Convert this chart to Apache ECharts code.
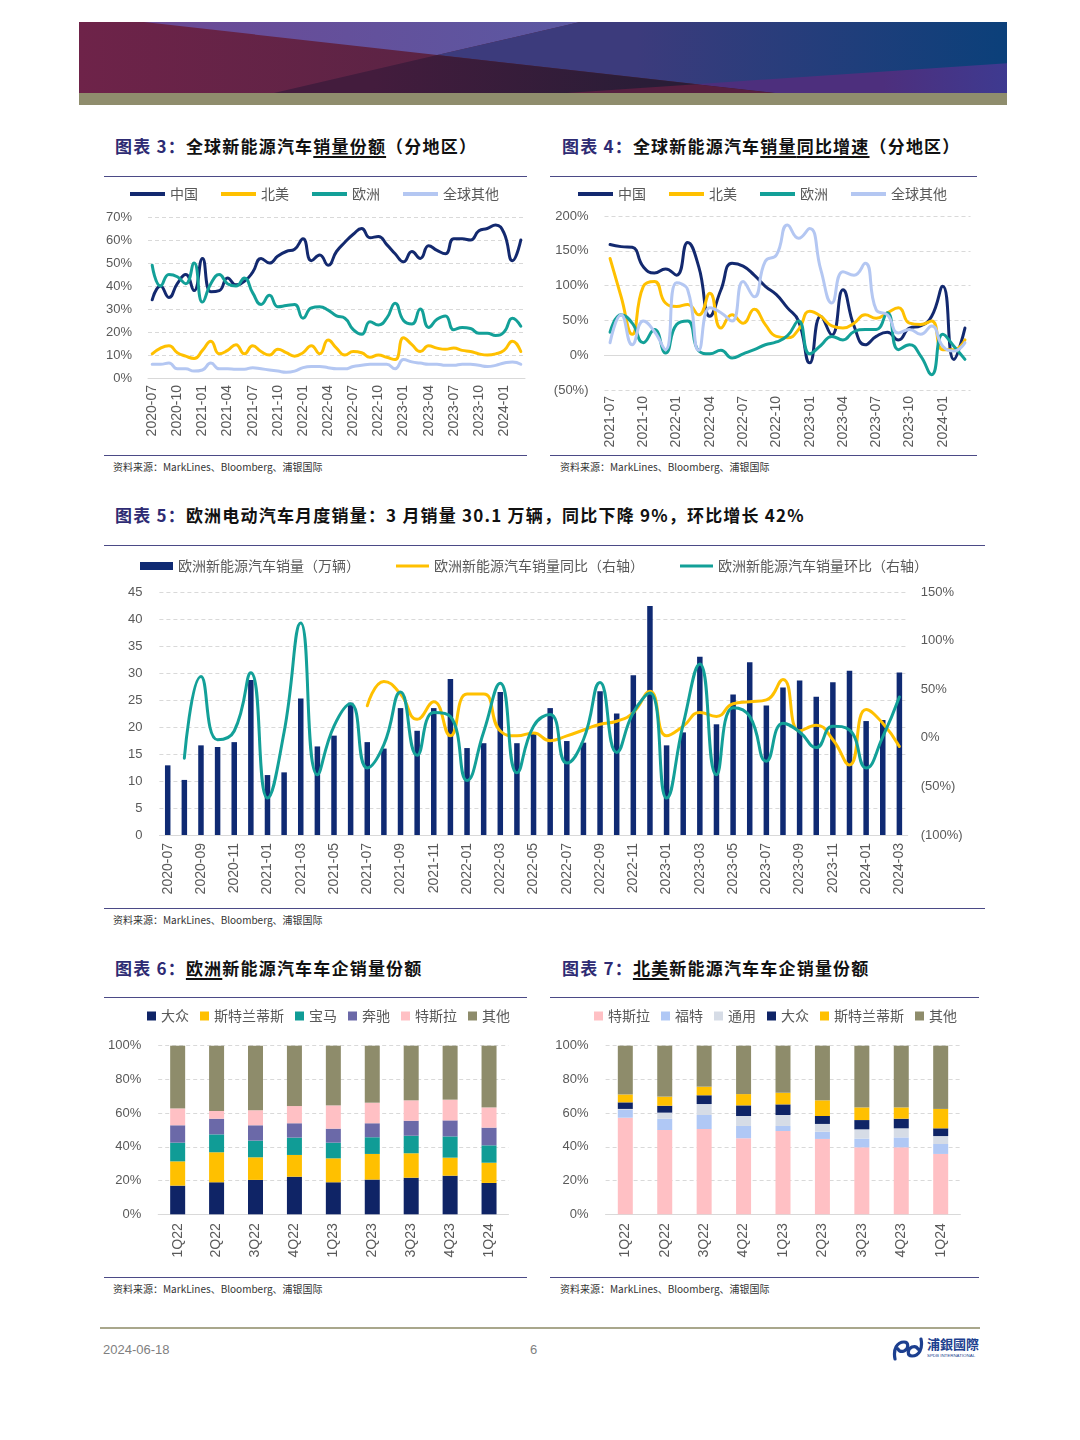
<!DOCTYPE html>
<html><head><meta charset="utf-8">
<script src="https://cdn.jsdelivr.net/npm/echarts@6/dist/echarts.min.js"></script>
<style>
html,body{margin:0;padding:0;background:#fff;}
body{width:1080px;height:1440px;position:relative;overflow:hidden;font-family:"Noto Sans CJK SC",sans-serif;}
.abs{position:absolute;}
.title{position:absolute;font-size:17px;font-weight:bold;color:#111;letter-spacing:1.2px;white-space:nowrap;line-height:20px;}
.title .lab{color:#2E2B73;}
.title u{text-decoration:underline;text-underline-offset:3px;text-decoration-thickness:1.5px;}
.rule{position:absolute;height:0;border-top:1.5px solid #4B4A86;}
.src{position:absolute;font-size:10px;color:#333;white-space:nowrap;line-height:12px;}
.chart{position:absolute;}
</style></head>
<body>
<svg class="abs" style="left:79px;top:22px" width="928" height="71" viewBox="0 0 1000 100" preserveAspectRatio="none">
<defs>
<linearGradient id="gL" x1="0" x2="1" y1="0" y2="0"><stop offset="0" stop-color="#6E2349"/><stop offset="0.5" stop-color="#552443"/></linearGradient>
<linearGradient id="gT" x1="0" x2="1" y1="0" y2="0"><stop offset="0" stop-color="#6C4995"/><stop offset="1" stop-color="#5B58A2"/></linearGradient>
<linearGradient id="gR" x1="0" x2="1" y1="0" y2="0"><stop offset="0.35" stop-color="#3C3B7C"/><stop offset="1" stop-color="#0B407A"/></linearGradient>
<linearGradient id="gB" x1="0" x2="1" y1="0" y2="0"><stop offset="0.2" stop-color="#431C3D"/><stop offset="0.75" stop-color="#2A1D37"/></linearGradient>
<linearGradient id="gP" x1="0" x2="1" y1="0" y2="0"><stop offset="0.6" stop-color="#4D2F7D"/><stop offset="1" stop-color="#3E3A90"/></linearGradient>
</defs>
<rect x="0" y="0" width="1000" height="100" fill="url(#gL)"/>
<polygon points="70,0 540,0 386,46.5" fill="url(#gT)"/>
<polygon points="540,0 1000,0 1000,100 750,100 386,46.5" fill="url(#gR)"/>
<polygon points="386,46.5 750,100 210,100" fill="url(#gB)"/>
<polygon points="665,87.6 1000,58 1000,100 750,100" fill="url(#gP)"/>
<polygon points="525,100 665,87.6 750,100" fill="#571F40"/>
</svg>
<div class="abs" style="left:79px;top:93px;width:928px;height:12px;background:#8F8D6D"></div>

<div class="title" style="left:115px;top:136px"><span class="lab">图表 3：</span>全球新能源汽车<u>销量份额</u>（分地区）</div>
<div class="title" style="left:562px;top:136px"><span class="lab">图表 4：</span>全球新能源汽车<u>销量</u><u>同比增速</u>（分地区）</div>
<div class="rule" style="left:104px;top:176px;width:423px"></div>
<div class="rule" style="left:550px;top:176px;width:427px"></div>
<div class="rule" style="left:104px;top:455px;width:423px"></div>
<div class="rule" style="left:550px;top:455px;width:427px"></div>
<div class="src" style="left:113px;top:461px">资料来源：MarkLines、Bloomberg、浦银国际</div>
<div class="src" style="left:560px;top:461px">资料来源：MarkLines、Bloomberg、浦银国际</div>

<div class="title" style="left:115px;top:505px;letter-spacing:1.2px"><span class="lab">图表 5：</span>欧洲电动汽车月度销量：3 月销量 30.1 万辆，同比下降 9%，环比增长 42%</div>
<div class="rule" style="left:104px;top:545px;width:881px"></div>
<div class="rule" style="left:104px;top:908px;width:881px"></div>
<div class="src" style="left:113px;top:914px">资料来源：MarkLines、Bloomberg、浦银国际</div>

<div class="title" style="left:115px;top:958px"><span class="lab">图表 6：</span><u>欧洲</u>新能源汽车车企销量份额</div>
<div class="title" style="left:562px;top:958px"><span class="lab">图表 7：</span><u>北美</u>新能源汽车车企销量份额</div>
<div class="rule" style="left:104px;top:997px;width:423px"></div>
<div class="rule" style="left:550px;top:997px;width:429px"></div>
<div class="rule" style="left:104px;top:1277px;width:423px"></div>
<div class="rule" style="left:550px;top:1277px;width:429px"></div>
<div class="src" style="left:113px;top:1283px">资料来源：MarkLines、Bloomberg、浦银国际</div>
<div class="src" style="left:560px;top:1283px">资料来源：MarkLines、Bloomberg、浦银国际</div>

<div class="abs" style="left:100px;top:1327px;width:880px;height:2px;background:#A9A78C"></div>
<div class="abs" style="left:103px;top:1342px;font-family:'Liberation Sans',Arial,sans-serif;font-size:13px;color:#7F7F7F">2024-06-18</div>
<div class="abs" style="left:530px;top:1342px;font-family:'Liberation Sans',Arial,sans-serif;font-size:13px;color:#7F7F7F">6</div>
<svg class="abs" style="left:892px;top:1337px" width="32" height="24" viewBox="0 0 32 24">
<path d="M3,22 C1,12 5,5 12,5 C17,5 17,12 12,14 C9,15 7,14 6,12" fill="none" stroke="#1C3F8F" stroke-width="3.2" stroke-linecap="round"/>
<path d="M29,2 C31,12 27,19 20,19 C15,19 15,12 20,10 C23,9 25,10 26,12" fill="none" stroke="#1C3F8F" stroke-width="3.2" stroke-linecap="round"/>
</svg>
<div class="abs" style="left:927px;top:1336px;font-size:13px;font-weight:bold;color:#1C3F8F;letter-spacing:0px;line-height:16px">浦銀國際</div>
<div class="abs" style="left:927px;top:1353px;font-size:8px;color:#1C3F8F;transform:scale(0.55);transform-origin:0 0;white-space:nowrap;font-family:'Liberation Sans',Arial">SPDB INTERNATIONAL</div>

<div id="c3" class="chart" style="left:100px;top:180px;width:440px;height:275px"></div>
<div id="c4" class="chart" style="left:545px;top:180px;width:440px;height:275px"></div>
<div id="c5" class="chart" style="left:100px;top:550px;width:890px;height:358px"></div>
<div id="c6" class="chart" style="left:100px;top:1000px;width:440px;height:275px"></div>
<div id="c7" class="chart" style="left:545px;top:1000px;width:440px;height:275px"></div>

<script>
// ---------- categories ----------
const monthsAll = ['2020-07','2020-08','2020-09','2020-10','2020-11','2020-12',
 '2021-01','2021-02','2021-03','2021-04','2021-05','2021-06','2021-07','2021-08','2021-09','2021-10','2021-11','2021-12',
 '2022-01','2022-02','2022-03','2022-04','2022-05','2022-06','2022-07','2022-08','2022-09','2022-10','2022-11','2022-12',
 '2023-01','2023-02','2023-03','2023-04','2023-05','2023-06','2023-07','2023-08','2023-09','2023-10','2023-11','2023-12',
 '2024-01','2024-02','2024-03'];
const months4 = ['2021-07','2021-08','2021-09','2021-10','2021-11','2021-12',
 '2022-01','2022-02','2022-03','2022-04','2022-05','2022-06','2022-07','2022-08','2022-09','2022-10','2022-11','2022-12',
 '2023-01','2023-02','2023-03','2023-04','2023-05','2023-06','2023-07','2023-08','2023-09','2023-10','2023-11','2023-12',
 '2024-01','2024-02','2024-03'];
const quarters = ['1Q22','2Q22','3Q22','4Q22','1Q23','2Q23','3Q23','4Q23','1Q24'];

// ---------- chart 3: share by region (%) ----------
const shareChina = [34,40,35,41,45,38,52,37.5,38,43.5,40.5,42,46,52,50,53,55,56,60.5,51,53.5,49,55,59,62.5,65,61,61.5,58,54,50.5,55,52,57.5,55.5,54,60.5,60.5,60,64,65,66.5,63,51,60];
const shareNA = [10.5,13,14,11,9.5,8.5,12,16,10.5,12,14.5,10.5,14,11.5,10,12.5,11,9.5,11,14,10.5,16.5,13,10,11.5,11,9,10,9,8,17.5,14.5,11.5,14,13,12.5,13,12,11.5,10.5,10,10.5,12,16,11.5];
const shareEU = [49,40,45,44,41,50,33,41,45,41,40,43.5,37,32,36,31,31.5,32,26,30.5,31,29.5,27,26,21,19,24.5,23,26,32.5,25,23.5,30,22,25.5,27,21,22,21.5,19.5,19.5,18.5,20,26,22.5];
const shareROW = [6,6,6.5,4,4,3,3.5,6.5,4,4,3.8,3.8,4.5,4,3.5,3,2.5,3,4.5,5,5,4.5,4,4,5,5.5,6,6,6,4,8,7,6.5,6,6,5.5,5.5,6,6,5.5,5,5.5,6.5,7,6];

// ---------- chart 4: YoY growth by region (%) ----------
const yoyChina = [159,156,155,127,118,124,115,162,127,56,94,132,128,115,99,87,68,49,-11,56,29,94,42,15,27,33,22,39,42,56,99,-6,39];
const yoyNA = [139,84,30,99,106,75,70,73,58,89,39,58,46,66,44,27,25,37,63,56,42,39,46,58,53,61,68,46,44,49,8,8,22];
const yoyEU = [33,58,46,18,37,3,44,49,6,2,7,-4,2,8,15,19,28,49,2,14,27,22,34,37,37,61,8,15,-1,-28,30,13,-6];
const yoyROW = [18,58,15,49,34,8,104,94,7,68,61,49,106,84,135,144,187,168,182,123,75,120,115,132,65,58,32,37,30,42,13,6,18];

// ---------- chart 5: Europe monthly NEV sales ----------
const euSales = [12.9,10.2,16.6,16.3,17.2,28.7,
 11.1,11.6,25.3,16.4,18.4,24.5,17.2,16.0,23.5,19.3,23.5,28.9,
 16.1,17.0,26.5,17.0,18.9,23.5,17.4,17.1,26.6,22.5,29.6,42.4,
 16.6,19.0,33.0,20.5,26.0,32.0,24.0,27.3,28.6,25.6,28.3,30.4,
 21.1,21.3,30.1];
const euYoY = [null,null,null,null,null,null,
 null,null,null,null,null,null,33,58,45,19,37,2,
 45,45,7,2,5,-3,2,8,14,17,26,48,
 2,12,26,22,35,37,39,60,7,13,-2,-28,
 29,15,-9];
const euMoM = [null,-21,63,-2,7,67,
 -62,6,118,-38,12,35,-31,-7,47,-18,26,22,
 -44,6,56,-36,12,24,-26,-2,57,-15,26,46,
 -62,14,76,-38,31,22,-24,15,6,-10,12,8,
 -31,1,42];

// ---------- chart 6: Europe OEM share (%) ----------
const eu_VW = [17,19,20.4,22.3,19,20.6,21.7,22.9,18.6];
const eu_Stellantis = [14.4,17.8,13.4,12.9,14.2,15.2,14.5,10.7,12];
const eu_BMW = [11.1,10.6,9.9,10.3,9.3,9.9,10.4,12.6,10.3];
const eu_Benz = [10.3,9.3,9.1,8.5,8.3,8.3,8.9,9.5,10.5];
const eu_Tesla = [10,4.6,8.9,10.2,13.8,12.2,12.1,12.3,12];
const eu_Other = [37.2,38.7,38.3,35.8,35.4,33.8,32.4,32,36.6];

// ---------- chart 7: North America OEM share (%) ----------
const na_Tesla = [57.3,50,50.6,45.1,49.4,44.7,39.7,39.7,35.8];
const na_Ford = [4.6,6.7,8.3,7.3,3,4.3,5.2,5.9,5.9];
const na_GM = [0.6,3.6,6.5,5.9,6.5,4.6,5.5,5.4,4.7];
const na_VW = [3.9,4.1,5.2,6.3,6.3,4.7,5.5,5.7,4.6];
const na_Stellantis = [4.7,5.4,5.1,6.7,6.9,9.3,7.5,6.7,11.5];
const na_Other = [28.9,30.2,24.3,28.7,27.9,32.4,36.6,36.6,37.5];

// ---------- styles ----------
const CJK = '"Noto Sans CJK SC", sans-serif';
const LAT = '"Liberation Sans", Arial, sans-serif';
const C_NAVY = '#13296F', C_YEL = '#FFC000', C_TEAL = '#13A098', C_LBLUE = '#B4C7F2';
const AXC = '#595959', GRIDC = '#D9D9D9';
const axLabel = {color: AXC, fontFamily: LAT, fontSize: 13};
const xLabel = {color: AXC, fontFamily: LAT, fontSize: 14};
const pctFmt = v => v < 0 ? '(' + (-v) + '%)' : v + '%';
const splitDash = {show: true, lineStyle: {color: GRIDC, type: [4, 3], width: 1}};
const legendText = {fontFamily: CJK, fontSize: 14, color: AXC};

function lineSeries(name, data, color, extra) {
  return Object.assign({name, type: 'line', data, smooth: 0.5, symbol: 'none',
    lineStyle: {width: 3, color, cap: 'round'}, itemStyle: {color}}, extra || {});
}

// chart 3
echarts.init(document.getElementById('c3')).setOption({
  animation: false,
  legend: {top: 7, left: 30, padding: 0, icon: 'rect', itemWidth: 35, itemHeight: 4, itemGap: 23, textStyle: legendText,
    data: ['中国', '北美', '欧洲', '全球其他']},
  grid: {left: 48, top: 37, width: 377, height: 161},
  xAxis: {type: 'category', data: monthsAll, boundaryGap: true,
    axisLine: {lineStyle: {color: GRIDC}}, axisTick: {interval: 2, lineStyle: {color: GRIDC}},
    axisLabel: Object.assign({interval: 2, rotate: 90, margin: 7}, xLabel)},
  yAxis: {type: 'value', min: 0, max: 70, interval: 10, axisLine: {show: false}, axisTick: {show: false},
    axisLabel: Object.assign({formatter: '{value}%', margin: 16}, axLabel), splitLine: splitDash},
  series: [lineSeries('中国', shareChina, C_NAVY), lineSeries('北美', shareNA, C_YEL),
           lineSeries('欧洲', shareEU, C_TEAL), lineSeries('全球其他', shareROW, C_LBLUE)]
});

// chart 4
echarts.init(document.getElementById('c4')).setOption({
  animation: false,
  legend: {top: 7, left: 33, padding: 0, icon: 'rect', itemWidth: 35, itemHeight: 4, itemGap: 23, textStyle: legendText,
    data: ['中国', '北美', '欧洲', '全球其他']},
  grid: {left: 59.5, top: 36, width: 366, height: 174},
  xAxis: [
    {type: 'category', data: months4, boundaryGap: true, axisLine: {onZero: true, lineStyle: {color: GRIDC}},
     axisTick: {interval: 2, length: 5, lineStyle: {color: GRIDC}}, axisLabel: {show: false}},
    {type: 'category', data: months4, boundaryGap: true, position: 'bottom', axisLine: {show: false}, axisTick: {show: false},
     axisLabel: Object.assign({interval: 2, rotate: 90, margin: 6}, xLabel)}
  ],
  yAxis: {type: 'value', min: -50, max: 200, interval: 50, axisLine: {show: false}, axisTick: {show: false},
    axisLabel: Object.assign({formatter: pctFmt, margin: 16}, axLabel), splitLine: splitDash},
  series: [lineSeries('中国', yoyChina, C_NAVY), lineSeries('北美', yoyNA, C_YEL),
           lineSeries('欧洲', yoyEU, C_TEAL), lineSeries('全球其他', yoyROW, C_LBLUE)]
});

// chart 5
const lineIcon = 'path://M0,0M35,8M0,2.5h35v3h-35z';
echarts.init(document.getElementById('c5')).setOption({
  animation: false,
  legend: {top: 9, left: 40, padding: 0, itemWidth: 33, itemHeight: 8, itemGap: 36, textStyle: legendText,
    data: [{name: '欧洲新能源汽车销量（万辆）', icon: 'rect'},
           {name: '欧洲新能源汽车销量同比（右轴）', icon: lineIcon},
           {name: '欧洲新能源汽车销量环比（右轴）', icon: lineIcon}]},
  grid: {left: 59.4, top: 42, width: 748.3, height: 243},
  xAxis: {type: 'category', data: monthsAll, boundaryGap: true,
    axisLine: {lineStyle: {color: GRIDC}}, axisTick: {interval: 1, lineStyle: {color: GRIDC}},
    axisLabel: Object.assign({interval: 1, rotate: 90, margin: 8}, xLabel)},
  yAxis: [
    {type: 'value', min: 0, max: 45, interval: 5, axisLine: {show: false}, axisTick: {show: false},
     axisLabel: Object.assign({margin: 17}, axLabel), splitLine: splitDash},
    {type: 'value', min: -100, max: 150, interval: 50, position: 'right', axisLine: {show: false}, axisTick: {show: false},
     axisLabel: Object.assign({formatter: pctFmt, margin: 13}, axLabel), splitLine: {show: false}}
  ],
  series: [
    {name: '欧洲新能源汽车销量（万辆）', type: 'bar', data: euSales, barWidth: 5.5, itemStyle: {color: '#0F2A73'}},
    lineSeries('欧洲新能源汽车销量同比（右轴）', euYoY, C_YEL, {yAxisIndex: 1}),
    lineSeries('欧洲新能源汽车销量环比（右轴）', euMoM, C_TEAL, {yAxisIndex: 1})
  ]
});

// stacked bar charts
function stackOption(legendLeft, gridLeft, gridWidth, names, datas, colors) {
  return {
    animation: false,
    legend: {top: 9, left: legendLeft, padding: 0, icon: 'rect', itemWidth: 9, itemHeight: 9, itemGap: 11, textStyle: legendText, data: names},
    grid: {left: gridLeft, top: 45.7, width: gridWidth, height: 168.6},
    xAxis: {type: 'category', data: quarters, boundaryGap: true,
      axisLine: {lineStyle: {color: GRIDC}}, axisTick: {lineStyle: {color: GRIDC}},
      axisLabel: Object.assign({rotate: 90, margin: 9, interval: 0}, xLabel)},
    yAxis: {type: 'value', min: 0, max: 100, interval: 20, axisLine: {show: false}, axisTick: {show: false},
      axisLabel: Object.assign({formatter: '{value}%', margin: 17}, axLabel), splitLine: splitDash},
    series: names.map((n, i) => ({name: n, type: 'bar', stack: 'all', data: datas[i], barWidth: 15,
      itemStyle: {color: colors[i]}}))
  };
}
echarts.init(document.getElementById('c6')).setOption(stackOption(47, 58.2, 350.3,
  ['大众', '斯特兰蒂斯', '宝马', '奔驰', '特斯拉', '其他'],
  [eu_VW, eu_Stellantis, eu_BMW, eu_Benz, eu_Tesla, eu_Other],
  ['#0F2466', '#FFC000', '#109C96', '#6B69A8', '#FFC0C4', '#8E8C6B']));
echarts.init(document.getElementById('c7')).setOption(stackOption(49, 60.6, 354.8,
  ['特斯拉', '福特', '通用', '大众', '斯特兰蒂斯', '其他'],
  [na_Tesla, na_Ford, na_GM, na_VW, na_Stellantis, na_Other],
  ['#FFC0C4', '#B0C8F5', '#D6DCE6', '#0F2466', '#FFC000', '#8E8C6B']));
</script>
</body></html>
